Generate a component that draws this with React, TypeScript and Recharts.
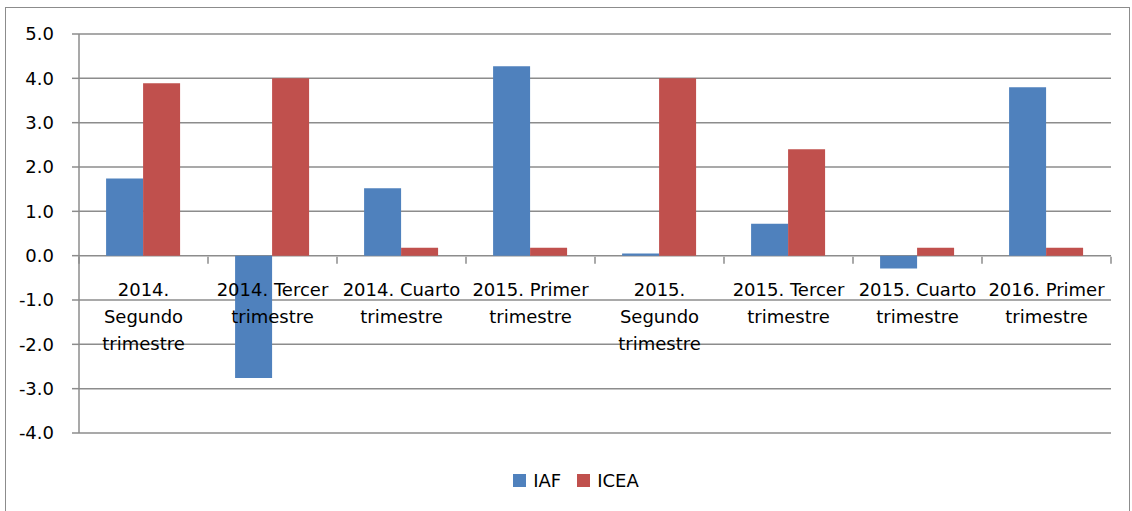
import React from "react";
import { BarChart, Bar, XAxis, YAxis, CartesianGrid, Legend } from "recharts";

const categories = [
  "2014. Segundo trimestre",
  "2014. Tercer trimestre",
  "2014. Cuarto trimestre",
  "2015. Primer trimestre",
  "2015. Segundo trimestre",
  "2015. Tercer trimestre",
  "2015. Cuarto trimestre",
  "2016. Primer trimestre",
];
const iaf = [1.74, -2.76, 1.52, 4.27, 0.05, 0.72, -0.29, 3.8];
const icea = [3.89, 4.0, 0.18, 0.18, 4.0, 2.4, 0.18, 0.18];
const yTicks = [-4, -3, -2, -1, 0, 1, 2, 3, 4, 5];

const data = categories.map((c, i) => ({ name: c, IAF: iaf[i], ICEA: icea[i] }));

const W = 1132;
const H = 511;
const LEGEND_H = 26;
const XAXIS_H = 1;
const M = { top: 34, right: 21, bottom: 78 - LEGEND_H - XAXIS_H, left: 0 };
const YW = 79;
const PLOT_W = W - M.left - M.right - YW;
const PLOT_H = H - 34 - 78;
const Y_MIN = -4;
const Y_MAX = 5;
const ZERO_SHIFT = PLOT_H * (0 - Y_MIN) / (Y_MAX - Y_MIN);
const BAND = PLOT_W / categories.length;
const FONT = "'DejaVu Sans', sans-serif";

function wrap(s: string, max: number) {
  const words = s.split(" ");
  const lines: string[] = [];
  let cur = "";
  for (const w of words) {
    const t = cur ? cur + " " + w : w;
    if (t.length > max && cur) {
      lines.push(cur);
      cur = w;
    } else cur = t;
  }
  if (cur) lines.push(cur);
  return lines;
}

const CatTick = (props: any) => {
  const { x, y, payload, index } = props;
  const zy = y - ZERO_SHIFT - XAXIS_H;
  const lines = wrap(String(payload.value), 12);
  const last = index === categories.length - 1;
  return (
    <g>
      <line x1={x - BAND / 2} x2={x - BAND / 2} y1={zy} y2={zy + 7} stroke="#8c8c8c" strokeWidth={1.5} />
      {last && (
        <line x1={x + BAND / 2} x2={x + BAND / 2} y1={zy} y2={zy + 7} stroke="#8c8c8c" strokeWidth={1.5} />
      )}
      {lines.map((l, i) => (
        <text key={i} x={x} y={zy + 39 + i * 27} textAnchor="middle" fontSize={18} fill="#000" fontFamily={FONT}>
          {l}
        </text>
      ))}
    </g>
  );
};

const LegendContent = (props: any) => {
  const { payload } = props;
  return (
    <div style={{ display: "flex", justifyContent: "center", alignItems: "center", height: LEGEND_H, paddingLeft: 20, fontFamily: FONT, fontSize: 18, color: "#000" }}>
      {(payload || []).map((p: any, i: number) => (
        <div key={i} style={{ display: "flex", alignItems: "center", marginLeft: i ? 16 : 0 }}>
          <span style={{ display: "inline-block", width: 13, height: 13, background: p.color, marginRight: 7 }} />
          <span>{p.value}</span>
        </div>
      ))}
    </div>
  );
};

export default function App() {
  return (
    <div style={{ position: "absolute", left: 0, top: 0, width: W, height: H, background: "#fff" }}>
      <div
        style={{
          position: "absolute",
          left: 5,
          top: 7,
          width: 1125,
          height: 520,
          border: "1.5px solid #8c8c8c",
          boxSizing: "border-box",
        }}
      />
      <BarChart
        width={W}
        height={H}
        data={data}
        margin={M}
        barCategoryGap="21%"
        barGap={0}
        style={{ position: "absolute", left: 0, top: 0 }}
      >
        <CartesianGrid vertical={false} stroke="#8c8c8c" strokeWidth={1.5} />
        <XAxis
          dataKey="name"
          axisLine={false}
          tickLine={false}
          tickSize={0}
          tick={<CatTick />}
          interval={0}
          height={XAXIS_H}
        />
        <YAxis
          width={YW}
          domain={[Y_MIN, Y_MAX]}
          ticks={yTicks}
          interval={0}
          tickFormatter={(v: number) => v.toFixed(1)}
          axisLine={{ stroke: "#8c8c8c", strokeWidth: 1.5 }}
          tickLine={{ stroke: "#8c8c8c", strokeWidth: 1.5 }}
          tickSize={7}
          tickMargin={18}
          tick={{ fontSize: 18, fill: "#000", fontFamily: FONT }}
        />
        <Legend
          verticalAlign="bottom"
          align="center"
          content={<LegendContent />}
          wrapperStyle={{ top: 467, left: 0, width: W, height: LEGEND_H }}
        />
        <Bar dataKey="IAF" fill="#4F81BD" isAnimationActive={false} />
        <Bar dataKey="ICEA" fill="#C0504D" isAnimationActive={false} />
      </BarChart>
    </div>
  );
}
